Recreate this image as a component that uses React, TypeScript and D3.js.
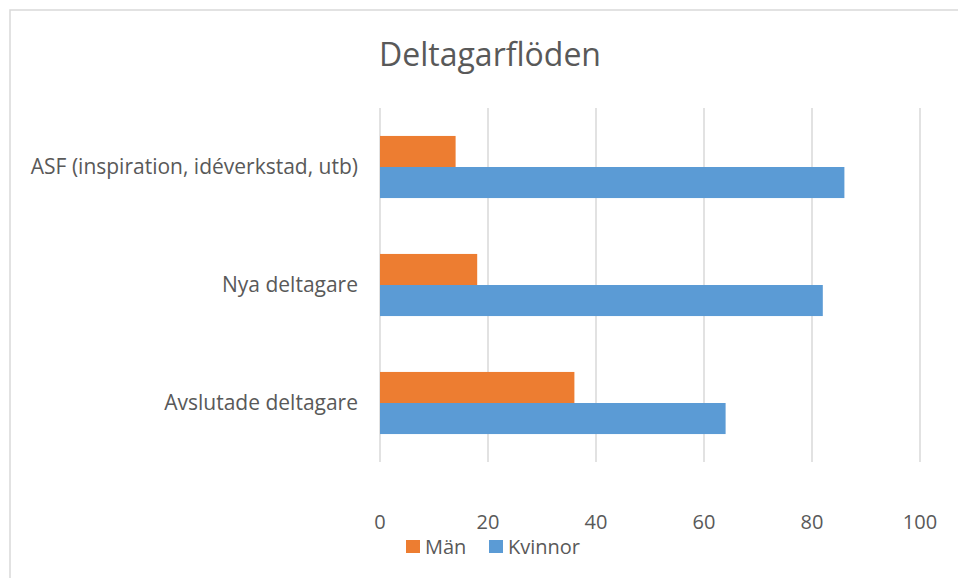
import React from "react";
import * as d3 from "d3";

const categories = ["ASF (inspiration, idéverkstad, utb)", "Nya deltagare", "Avslutade deltagare"];
const series = ["Män", "Kvinnor"];
const man = [14, 18, 36];
const kvinnor = [86, 82, 64];
const ticks = [0, 20, 40, 60, 80, 100];
const colors = ["#ED7D31", "#5B9BD5"];

const width = 958;
const height = 578;
const font = "'Open Sans', sans-serif";
const textColor = "#595959";

export default function App() {
  const x = d3.scaleLinear().domain([0, 100]).range([380, 920]);
  const y = d3.scaleBand().domain(categories).range([108, 462]);

  // Excel-style gap width ~90%: bars cover ~1/1.9 of each band
  const groupH = y.bandwidth() / 1.9;
  const barH = groupH / 2;
  const values = [man, kvinnor];

  return (
    <div style={{ position: "absolute", left: 0, top: 0 }}>
      <svg width={width} height={height} style={{ display: "block", background: "#fff" }}>
        <rect x={10} y={10} width={width + 20} height={height + 20} fill="#fff" stroke="#D9D9D9" strokeWidth={1.5} />
        <text x={490} y={66} textAnchor="middle" fontFamily={font} fontSize={32} fill={textColor}>
          Deltagarflöden
        </text>
        {ticks.map((t) => (
          <g key={t}>
            <line x1={x(t)} x2={x(t)} y1={108} y2={462} stroke="#D9D9D9" strokeWidth={1.5} />
            <text x={x(t)} y={529} textAnchor="middle" fontFamily={font} fontSize={20} fill={textColor}>
              {t}
            </text>
          </g>
        ))}
        {categories.map((c, i) => {
          const cy = (y(c) as number) + y.bandwidth() / 2;
          return (
            <g key={c}>
              {series.map((s, j) => (
                <rect
                  key={s}
                  x={x(0)}
                  y={cy - groupH / 2 + j * barH}
                  width={x(values[j][i]) - x(0)}
                  height={barH}
                  fill={colors[j]}
                />
              ))}
              <text x={358} y={cy + 7} textAnchor="end" fontFamily={font} fontSize={21} fill={textColor}>
                {c}
              </text>
            </g>
          );
        })}
        <g>
          <rect x={406} y={540} width={14} height={13} fill={colors[0]} />
          <text x={425} y={554} fontFamily={font} fontSize={20} fill={textColor}>
            {series[0]}
          </text>
          <rect x={489} y={540} width={14} height={13} fill={colors[1]} />
          <text x={508} y={554} fontFamily={font} fontSize={20} fill={textColor}>
            {series[1]}
          </text>
        </g>
      </svg>
    </div>
  );
}
